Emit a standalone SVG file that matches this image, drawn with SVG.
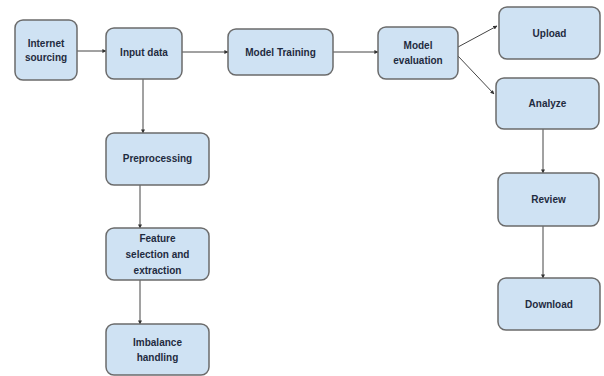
<svg xmlns="http://www.w3.org/2000/svg" width="604" height="376" viewBox="0 0 604 376">
<defs>
<marker id="ah" viewBox="0 0 10 10" refX="9" refY="5" markerWidth="4" markerHeight="4" orient="auto"><path d="M0,0 L10,5 L0,10 z" fill="#333"/></marker>
<style>
.n rect{fill:#cfe2f3;stroke:#6b6b6b;stroke-width:1.5}
.n text{font-family:"Liberation Sans",Arial,sans-serif;font-weight:bold;font-size:10px;fill:#1f2b40;text-anchor:middle}
.c path{fill:none;stroke:#444;stroke-width:1;marker-end:url(#ah)}
</style>
</defs>
<rect width="604" height="376" fill="#fff"/>
<g class="c">
<path d="M77,51 L106,51"/>
<path d="M182,52 L228,52"/>
<path d="M333,52 L378,52"/>
<path d="M458,47 L497,26"/>
<path d="M458,56 L494,94"/>
<path d="M143,79 L143,133"/>
<path d="M140,185 L140,228"/>
<path d="M140,280 L140,324"/>
<path d="M543,129 L543,173"/>
<path d="M543,226 L543,278"/>
</g>
<g id="internet" class="n"><rect x="15" y="20" width="62" height="60" rx="8"/><text x="46" y="47">Internet</text><text x="46" y="61">sourcing</text></g>
<g id="input" class="n"><rect x="106" y="28" width="76" height="51" rx="8"/><text x="144" y="56">Input data</text></g>
<g id="training" class="n"><rect x="228" y="29" width="105" height="46" rx="8"/><text x="280.5" y="56">Model Training</text></g>
<g id="evaluation" class="n"><rect x="378" y="27" width="80" height="52" rx="8"/><text x="418" y="49">Model</text><text x="418" y="64">evaluation</text></g>
<g id="upload" class="n"><rect x="499" y="7" width="101" height="52" rx="8"/><text x="549.5" y="37">Upload</text></g>
<g id="analyze" class="n"><rect x="496" y="78" width="103" height="51" rx="8"/><text x="547.5" y="107">Analyze</text></g>
<g id="review" class="n"><rect x="498" y="173" width="101" height="53" rx="8"/><text x="548.5" y="203">Review</text></g>
<g id="download" class="n"><rect x="498" y="278" width="102" height="52" rx="8"/><text x="549" y="308">Download</text></g>
<g id="preprocessing" class="n"><rect x="106" y="133" width="103" height="52" rx="8"/><text x="157.5" y="162">Preprocessing</text></g>
<g id="feature" class="n"><rect x="106" y="228" width="103" height="52" rx="8"/><text x="157.5" y="242">Feature</text><text x="157.5" y="258">selection and</text><text x="157.5" y="274">extraction</text></g>
<g id="imbalance" class="n"><rect x="106" y="324" width="103" height="51" rx="8"/><text x="157.5" y="346">Imbalance</text><text x="157.5" y="361">handling</text></g>
</svg>
